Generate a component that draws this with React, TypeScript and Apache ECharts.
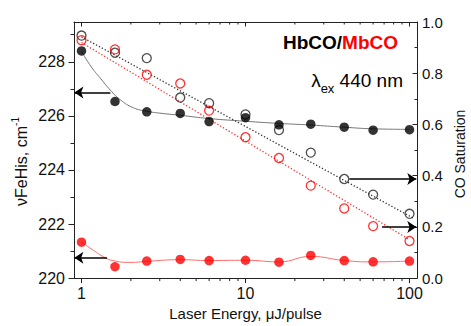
import React, { useEffect, useRef } from 'react';
import * as echarts from 'echarts';

// Laser energy (µJ/pulse)
const energies = [1, 1.6, 2.5, 4, 6, 10, 16, 25, 40, 60, 100];
// νFeHis (cm-1), left axis
const hbFreq = [228.4, 226.53, 226.15, 226.09, 225.79, 225.93, 225.67, 225.69, 225.58, 225.47, 225.49];
const mbFreq = [221.33, 220.42, 220.63, 220.69, 220.65, 220.66, 220.59, 220.84, 220.65, 220.6, 220.63];
// CO saturation, right axis
const hbSat = [0.947, 0.88, 0.859, 0.705, 0.683, 0.639, 0.578, 0.49, 0.387, 0.326, 0.251];
const mbSat = [0.929, 0.893, 0.794, 0.76, 0.654, 0.55, 0.469, 0.361, 0.272, 0.203, 0.145];

// fitted curves
const hbFreqFitX = [1, 1.15, 1.3, 1.5, 1.72, 2.07, 2.5, 3, 4, 6, 10, 16, 25, 40, 60, 100];
const hbFreqFitY = [228.38, 227.8, 227.4, 226.95, 226.6, 226.3, 226.17, 226.1, 226.02, 225.9, 225.8, 225.72, 225.66, 225.58, 225.52, 225.5];
const mbFreqFitX = [1, 1.2, 1.4, 1.6, 2, 2.5, 4, 6, 10, 16, 25, 40, 60, 100];
const mbFreqFitY = [221.33, 221.0, 220.75, 220.63, 220.58, 220.62, 220.68, 220.65, 220.66, 220.6, 220.8, 220.65, 220.6, 220.63];
const hbSatFitX = [1, 107];
const hbSatFitY = [0.942, 0.232];
const mbSatFitX = [1, 100];
const mbSatFitY = [0.92, 0.15];

// annotation arrows: [fromX, toX, y]
const leftArrows = [
  [1.5, 0.905, 226.86],
  [1.43, 0.905, 220.75],
];
const rightArrows = [
  [43, 110, 0.387],
  [68, 110, 0.2],
];

// ticks
const leftMajorTicks = [220, 222, 224, 226, 228];
const leftMinorTicks = [221, 223, 225, 227, 229];
const xMajorTicks = [1, 10, 100];
const xMinorTicks = [2, 3, 4, 5, 6, 7, 8, 9, 20, 30, 40, 50, 60, 70, 80, 90];

const FONT = '"Liberation Sans", Arial, Helvetica, sans-serif';
const AX = '#222';
const RED = '#ff0000';

const pairs = (xs: number[], ys: number[]) => xs.map((x, i) => [x, ys[i]]);

export default function App() {
  const ref = useRef<HTMLDivElement>(null);
  useEffect(() => {
    if (!ref.current) return;
    const chart = echarts.init(ref.current, undefined, { renderer: 'svg' });
    const option: any = {
      animation: false,
      backgroundColor: '#fff',
      grid: { left: 74, top: 22, width: 343, height: 262 },
      xAxis: [
        {
          type: 'log', logBase: 10, min: 0.9, max: 111.1, position: 'bottom',
          axisLine: { lineStyle: { color: AX, width: 1 } },
          axisTick: { show: false },
          splitLine: { show: false },
          axisLabel: { showMinLabel: false, showMaxLabel: false, fontSize: 16, color: '#111', fontFamily: FONT, margin: 7 },
          name: 'Laser Energy, \u03bcJ/pulse', nameLocation: 'middle', nameGap: 26,
          nameTextStyle: { fontSize: 15, color: '#111', fontFamily: FONT },
        },
        {
          type: 'log', logBase: 10, min: 0.9, max: 111.1, position: 'top',
          axisLine: { lineStyle: { color: AX, width: 1 } },
          axisTick: { show: false }, axisLabel: { show: false }, splitLine: { show: false },
        },
      ],
      yAxis: [
        {
          type: 'value', min: 220, max: 229.47, position: 'left',
          axisLine: { show: true, lineStyle: { color: AX, width: 1 } },
          axisTick: { show: true, length: 5.5, customValues: leftMajorTicks, lineStyle: { color: AX } },
          axisLabel: { customValues: leftMajorTicks, fontSize: 16, color: '#111', fontFamily: FONT, margin: 9 },
          splitLine: { show: false },
        },
        {
          type: 'value', min: 220, max: 229.47, position: 'left',
          axisLine: { show: false },
          axisTick: { show: true, length: 3.5, customValues: leftMinorTicks, lineStyle: { color: AX } },
          axisLabel: { show: false }, splitLine: { show: false },
        },
        {
          type: 'value', min: 0, max: 1, interval: 0.2, position: 'right',
          axisLine: { show: true, lineStyle: { color: AX, width: 1 } },
          axisTick: { show: true, inside: true, length: 4.5, lineStyle: { color: AX } },
          minorTick: { show: true, splitNumber: 2, length: 2.5, lineStyle: { color: AX } },
          axisLabel: { formatter: (v: number) => v.toFixed(1), fontSize: 15, color: '#111', fontFamily: FONT, margin: 5 },
          splitLine: { show: false },
        },
      ],
      series: [
        {
          type: 'custom', xAxisIndex: 0, yAxisIndex: 0, silent: true, clip: false, z: 1,
          data: [...xMajorTicks.map((v) => [v, 220, 1]), ...xMinorTicks.map((v) => [v, 220, 0])],
          renderItem: (params: any, api: any) => {
            const v = api.value(0);
            const major = api.value(2) === 1;
            const cs = params.coordSys;
            const px = api.coord([v, 220])[0];
            const bottom = cs.y + cs.height;
            const top = cs.y;
            const lb = major ? 5 : 3;
            const lt = major ? 4.5 : 2.5;
            return {
              type: 'group',
              children: [
                { type: 'line', shape: { x1: px, y1: bottom, x2: px, y2: bottom + lb }, style: { stroke: AX, lineWidth: 1 } },
                { type: 'line', shape: { x1: px, y1: top, x2: px, y2: top + lt }, style: { stroke: AX, lineWidth: 1 } },
              ],
            };
          },
        },
        {
          type: 'line', yAxisIndex: 0, data: pairs(hbFreqFitX, hbFreqFitY), smooth: true, showSymbol: false,
          lineStyle: { color: '#777', width: 1 }, silent: true, z: 2,
          markLine: {
            silent: true, symbol: ['none', 'arrow'], symbolSize: 9, label: { show: false },
            lineStyle: { color: '#000', width: 1.5, type: 'solid' },
            data: leftArrows.map((a) => [{ coord: [a[0], a[2]] }, { coord: [a[1], a[2]] }]),
          },
        },
        {
          type: 'line', yAxisIndex: 0, data: pairs(mbFreqFitX, mbFreqFitY), smooth: true, showSymbol: false,
          lineStyle: { color: '#ff6a6a', width: 1 }, silent: true, z: 2,
        },
        {
          type: 'line', yAxisIndex: 2, data: pairs(hbSatFitX, hbSatFitY), showSymbol: false,
          lineStyle: { color: '#333', width: 1.3, type: [1.3, 2] }, silent: true, z: 2,
          markLine: {
            silent: true, symbol: ['none', 'arrow'], symbolSize: 9, label: { show: false },
            lineStyle: { color: '#000', width: 1.5, type: 'solid' },
            data: rightArrows.map((a) => [{ coord: [a[0], a[2]] }, { coord: [a[1], a[2]] }]),
          },
        },
        {
          type: 'line', yAxisIndex: 2, data: pairs(mbSatFitX, mbSatFitY), showSymbol: false,
          lineStyle: { color: '#ff3030', width: 1.3, type: [1.3, 2] }, silent: true, z: 2,
        },
        {
          type: 'scatter', yAxisIndex: 2, data: pairs(energies, hbSat), symbol: 'circle', symbolSize: 9,
          itemStyle: { color: 'rgba(0,0,0,0)', borderColor: '#222', borderWidth: 1.3 }, z: 3,
        },
        {
          type: 'scatter', yAxisIndex: 2, data: pairs(energies, mbSat), symbol: 'circle', symbolSize: 9,
          itemStyle: { color: 'rgba(0,0,0,0)', borderColor: RED, borderWidth: 1.3 }, z: 3,
        },
        {
          type: 'scatter', yAxisIndex: 0, data: pairs(energies, hbFreq), symbol: 'circle', symbolSize: 9.5,
          itemStyle: { color: '#000' }, z: 4,
        },
        {
          type: 'scatter', yAxisIndex: 0, data: pairs(energies, mbFreq), symbol: 'circle', symbolSize: 9.5,
          itemStyle: { color: RED }, z: 4,
        },
      ],
      graphic: [
        {
          type: 'text', x: 398, y: 42,
          style: {
            text: '{b|HbCO/}{r|MbCO}', align: 'right', verticalAlign: 'middle',
            rich: {
              b: { fill: '#000', fontSize: 19, fontWeight: 'bold', fontFamily: FONT },
              r: { fill: RED, fontSize: 19, fontWeight: 'bold', fontFamily: FONT },
            },
          },
        },
        {
          type: 'text', x: 403, y: 80,
          style: {
            text: '{l|\u03bb}{s|ex}{n| 440 nm}', align: 'right', verticalAlign: 'middle',
            rich: {
              l: { fill: '#000', fontSize: 19, fontFamily: FONT, lineHeight: 30 },
              s: { fill: '#000', fontSize: 13, fontFamily: FONT, lineHeight: 13, verticalAlign: 'bottom' },
              n: { fill: '#000', fontSize: 19, fontFamily: FONT, lineHeight: 30 },
            },
          },
        },
        {
          type: 'text', x: 21, y: 161.5, rotation: Math.PI / 2,
          style: {
            text: '{a|\u03bdFeHis, cm}{s|-1}', align: 'center', verticalAlign: 'middle',
            rich: {
              a: { fill: '#111', fontSize: 16, fontFamily: FONT, lineHeight: 22 },
              s: { fill: '#111', fontSize: 10, fontFamily: FONT, lineHeight: 10, verticalAlign: 'top' },
            },
          },
        },
        {
          type: 'text', x: 460, y: 154, rotation: Math.PI / 2,
          style: {
            text: 'CO Saturation', align: 'center', verticalAlign: 'middle',
            fill: '#111', fontSize: 14, fontFamily: FONT,
          },
        },
      ],
    };
    chart.setOption(option);
    return () => chart.dispose();
  }, []);
  return (
    <div
      ref={ref}
      style={{ position: 'fixed', left: 0, top: 0, width: 471, height: 326, background: '#fff' }}
    />
  );
}
